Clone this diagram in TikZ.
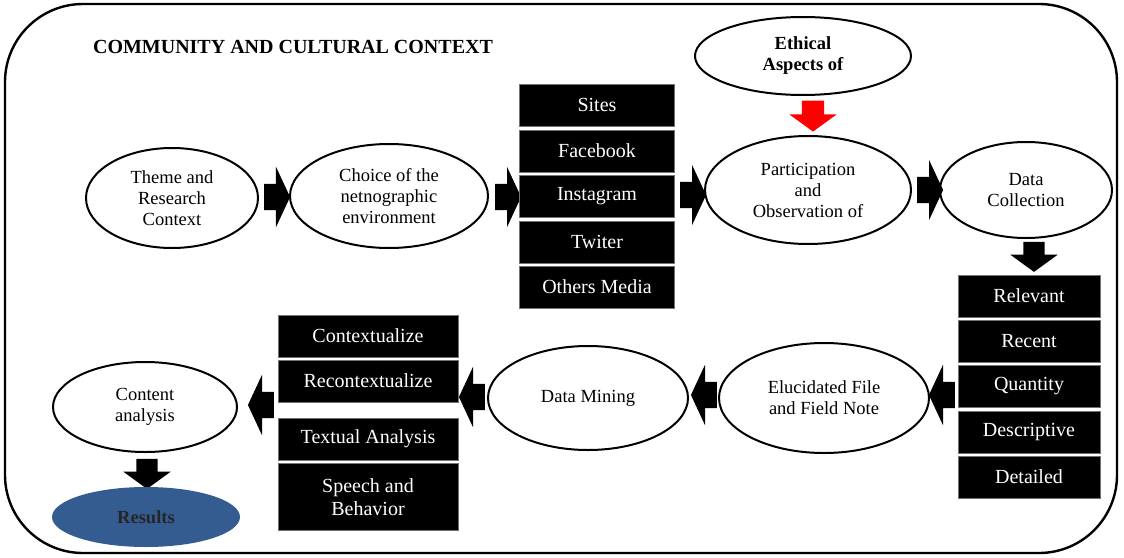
\documentclass[tikz,border=0pt]{standalone}
\usepackage{fontspec}
\setmainfont{Liberation Serif}
\usetikzlibrary{shapes.geometric,shapes.arrows,calc}
\definecolor{resultblue}{RGB}{52,92,145}
\tikzset{stage/.style={ellipse,draw,line width=2pt,align=center,inner sep=0pt,font=\fontsize{18.5}{21}\selectfont},
item/.style={rectangle,fill=black,draw=black!55,text=white,minimum width=155pt,minimum height=42pt,inner sep=0pt,align=center,font=\fontsize{20}{23}\selectfont},
harrow/.style={single arrow,fill=black,inner xsep=0pt,inner ysep=13pt,single arrow head extend=17pt,single arrow tip angle=130,minimum height=26pt},
varrow/.style={single arrow,fill=black,inner xsep=0pt,inner ysep=10.5pt,single arrow head extend=13pt,single arrow tip angle=108,minimum height=30pt,rotate=-90}}

\begin{document}
\begin{tikzpicture}[x=1pt,y=-1pt]
\useasboundingbox (0,0) rectangle (1124,557);
\draw[line width=2.4pt,rounded corners=78pt] (5,4) rectangle (1117,553);
\node (title) at (293,47) {\fontsize{20}{24}\selectfont\bfseries COMMUNITY AND CULTURAL CONTEXT};

%top row
\node (theme) at (172,198)[stage,minimum width=172pt,minimum height=100pt]{Theme and\\Research\\Context};
\node (choice) at (389,196)[stage,minimum width=198pt,minimum height=104pt]{Choice of the\\netnographic\\environment};
\node (a1) at ($(theme.east)!.5!(choice.west)$)[harrow]{};
\node (a2) at (505,197)[harrow]{};

%media
\node (sites) at (597,105)[item]{Sites};
\node (facebook) at (597,151)[item]{Facebook};
\node (instagram) at (597,196)[item]{Instagram};
\node (twiter) at (597,242)[item]{Twiter};
\node (others) at (597,287)[item]{Others Media};
\node (a3) at (690,195)[harrow]{};

%participation
\node (ethical) at (803,56)[stage,minimum width=216pt,minimum height=78pt,font=\fontsize{18.5}{21}\selectfont\bfseries]{Ethical\\Aspects of};
\node (particip) at (808,190)[stage,minimum width=206pt,minimum height=108pt]{Participation\\and\\Observation of};
\node (red) at (813,112)[varrow,fill=red,inner ysep=11pt,single arrow head extend=12.5pt,minimum height=31pt]{};
\node (a4) at (927,190)[harrow]{};
\node (collect) at (1026,190)[stage,minimum width=172pt,minimum height=96pt]{Data\\Collection};
\node (a5) at (1034,253)[varrow]{};

%criteria
\node (relevant) at (1029,296)[item,minimum width=142pt]{Relevant};
\node (recent) at (1029,341)[item,minimum width=142pt]{Recent};
\node (quantity) at (1029,386)[item,minimum width=142pt]{Quantity};
\node (descr) at (1029,432)[item,minimum width=142pt]{Descriptive};
\node (detailed) at (1029,477)[item,minimum width=142pt]{Detailed};

%bottom row
\node (a6) at (945,395)[harrow,rotate=180]{};
\node (eluc) at (824,398)[stage,minimum width=210pt,minimum height=110pt]{Elucidated File\\and Field Note};
\node (a7) at (707,395)[harrow,rotate=180]{};
\node (mining) at (588,398)[stage,minimum width=200pt,minimum height=104pt]{Data Mining};
\node (a8) at (475,397)[harrow,rotate=180]{};

%analysis
\node (context) at (368,336)[item,minimum width=180pt]{Contextualize};
\node (recontext) at (368,381)[item,minimum width=180pt]{Recontextualize};
\node (textual) at (368,439)[item,minimum width=180pt]{Textual Analysis};
\node (speech) at (368,497)[item,minimum width=180pt,minimum height=67pt]{Speech and\\Behavior};
\node (a9) at (264,405)[harrow,rotate=180]{};

%results
\node (content) at (145,407)[stage,minimum width=184pt,minimum height=90pt]{Content\\analysis};
\node (a10) at (147,470)[varrow]{};
\node (results) at (146,517)[ellipse,fill=resultblue,minimum width=188pt,minimum height=60pt,font=\fontsize{18.5}{21}\selectfont\bfseries,text=black!85]{Results};
\end{tikzpicture}
\end{document}
